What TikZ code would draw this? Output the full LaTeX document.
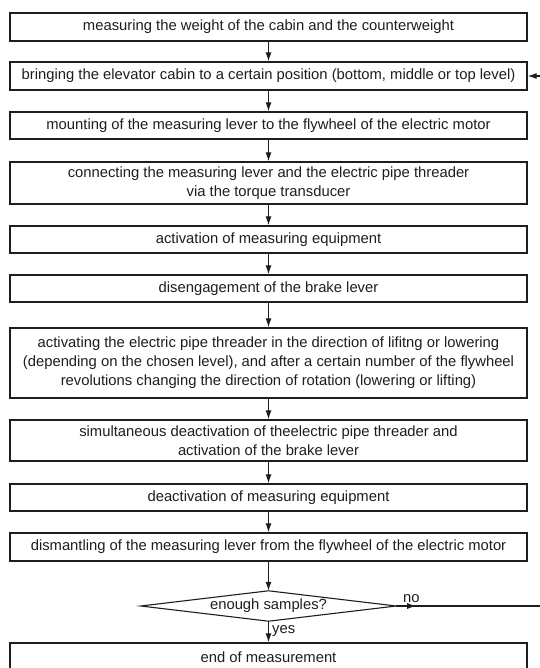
\documentclass[tikz,border=0pt]{standalone}
\usepackage{fontspec}
\setmainfont{Liberation Sans}
\usetikzlibrary{shapes.geometric,arrows.meta}
\definecolor{ink}{HTML}{1E1E1E}
\tikzset{
  stepbox/.style={draw=ink, line width=1.3pt, rectangle, minimum width=517pt, inner sep=0pt, align=center, text=ink,
    font=\fontsize{14.8pt}{19pt}\selectfont},
  decbox/.style={rectangle, minimum width=255pt, minimum height=30pt, inner sep=0pt, text=ink,
    font=\fontsize{14.8pt}{19pt}\selectfont},
  diamondline/.style={draw=ink, line width=1.1pt, line join=miter},
  conn/.style={draw=ink, line width=1.1pt, -{Latex[length=9pt,width=6pt]}},
  plain/.style={draw=ink, line width=1.1pt},
  lbl/.style={text=ink, inner sep=0pt, font=\fontsize{14.8pt}{19pt}\selectfont}
}
\begin{document}
\begin{tikzpicture}[x=1pt,y=-1pt]
\useasboundingbox[fill=white] (0,0) rectangle (539,668);
\node[stepbox, minimum height=28pt] (b1) at (268.5,27) {measuring the weight of the cabin and the counterweight};
\node[stepbox, minimum height=28pt] (b2) at (268.5,76) {bringing the elevator cabin to a certain position (bottom, middle or top level)};
\node[stepbox, minimum height=27pt] (b3) at (268.5,125.5) {mounting of the measuring lever to the flywheel of the electric motor};
\node[stepbox, minimum height=42pt] (b4) at (268.5,183) {connecting the measuring lever and the electric pipe threader\\via the torque transducer};
\node[stepbox, minimum height=27pt] (b5) at (268.5,239.5) {activation of measuring equipment};
\node[stepbox, minimum height=27pt] (b6) at (268.5,288.5) {disengagement of the brake lever};
\node[stepbox, minimum height=70pt] (b7) at (268.5,363) {activating the electric pipe threader in the direction of lifitng or lowering\\(depending on the chosen level), and after a certain number of the flywheel\\revolutions changing the direction of rotation (lowering or lifting)};
\node[stepbox, minimum height=41pt] (b8) at (268.5,440.5) {simultaneous deactivation of theelectric pipe threader and\\activation of the brake lever};
\node[stepbox, minimum height=27pt] (b9) at (268.5,497.5) {deactivation of measuring equipment};
\node[stepbox, minimum height=28pt] (b10) at (268.5,547) {dismantling of the measuring lever from the flywheel of the electric motor};
\node[decbox] (d) at (268.5,606) {enough samples?};
\draw[diamondline] (d.west) -- (d.north) -- (d.east) -- (d.south) -- cycle;
\node[stepbox, minimum height=28pt] (b11) at (268.5,657) {end of measurement};
\coordinate (noend) at (541,606);
\coordinate (loopin) at (541,76);
\draw[conn] (b1) -- (b2);
\draw[conn] (b2) -- (b3);
\draw[conn] (b3) -- (b4);
\draw[conn] (b4) -- (b5);
\draw[conn] (b5) -- (b6);
\draw[conn] (b6) -- (b7);
\draw[conn] (b7) -- (b8);
\draw[conn] (b8) -- (b9);
\draw[conn] (b9) -- (b10);
\draw[conn] (b10) -- (d.north);
\draw[conn] (d.south) -- (b11);
\draw[plain] (d.east) -- (noend);
\draw[conn] (d.east) -- ++(20,0);
\draw[conn] (loopin) -- (b2.east);
\node[lbl, anchor=south west] (no) at (403,603) {no};
\node[lbl, anchor=west] (yes) at (272,631) {yes};
\end{tikzpicture}
\end{document}
